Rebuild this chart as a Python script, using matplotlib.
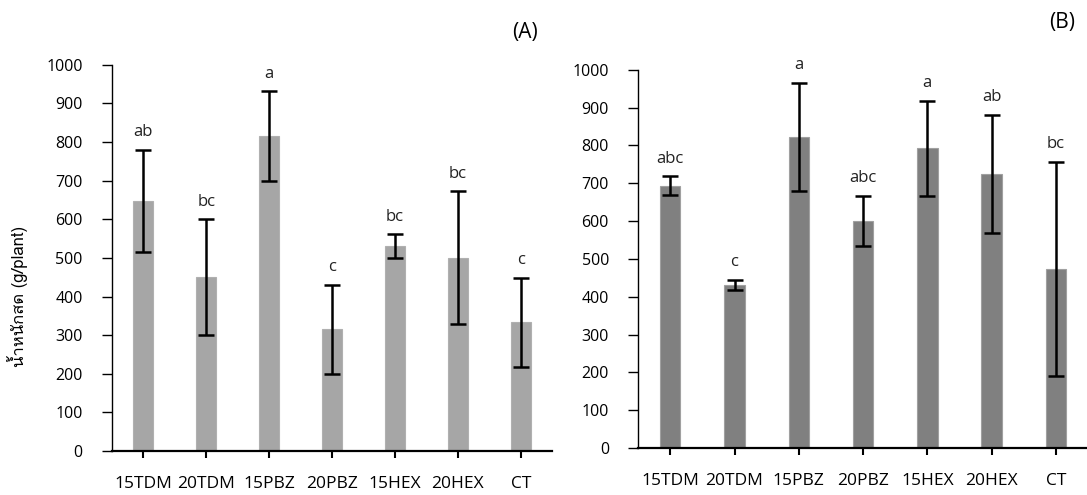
import matplotlib
matplotlib.use('Agg')
import matplotlib.pyplot as plt
from matplotlib import font_manager
from matplotlib.ft2font import FT2Font
import numpy as np

# treatments, shared by both panels
treatments = ['15TDM', '20TDM', '15PBZ', '20PBZ', '15HEX', '20HEX', 'CT']

# panel A: fresh weight (g/plant), error and letters
mean_a = [648, 450, 815, 315, 531, 500, 333]
err_a = [132, 150, 116, 115, 30, 172, 115]
letters_a = ['ab', 'bc', 'a', 'c', 'bc', 'bc', 'c']

# panel B
mean_b = [693, 431, 822, 600, 792, 724, 473]
err_b = [25, 13, 143, 66, 126, 156, 284]
letters_b = ['abc', 'c', 'a', 'abc', 'a', 'ab', 'bc']

ylabel = 'น้ำหนักสด (g/plant)'

# look for an installed family that has Thai glyphs
thai_families = []
for f in font_manager.fontManager.ttflist:
    try:
        font = FT2Font(f.fname)
        if all(font.get_char_index(ord(c)) != 0 for c in 'น้ำหนักสด'):
            if f.name not in thai_families:
                thai_families.append(f.name)
    except Exception:
        pass

plt.rcParams['font.family'] = ['Open Sans', 'DejaVu Sans']

fig = plt.figure(figsize=(10.87, 4.95), dpi=100)
ax1 = fig.add_axes([0.103, 0.089, 0.405, 0.780])
ax2 = fig.add_axes([0.587, 0.095, 0.414, 0.764])


def draw_panel(ax, means, errs, letters, color, edge):
    x = np.arange(len(treatments))
    ax.bar(x, means, width=0.32, color=color, edgecolor=edge, linewidth=0.8, zorder=2)
    ax.errorbar(x, means, yerr=errs, fmt='none', ecolor='black', elinewidth=1.8,
                capsize=6, capthick=1.8, zorder=3)
    for xi, m, e, lab in zip(x, means, errs, letters):
        ax.annotate(lab, (xi, m + e), xytext=(0, 7), textcoords='offset points',
                    ha='center', va='bottom', fontsize=12, color='#222222')
    ax.set_xlim(-0.5, len(treatments) - 0.5)
    ax.set_ylim(0, 1000)
    ax.set_yticks(range(0, 1001, 100))
    ax.set_xticks(x)
    ax.set_xticklabels(treatments)
    for s in ['top', 'right']:
        ax.spines[s].set_visible(False)
    ax.spines['left'].set_linewidth(1.0)
    ax.spines['bottom'].set_linewidth(1.6)
    ax.tick_params(axis='y', direction='out', length=7, width=1.0, pad=14,
                   labelsize=11.5, colors='black')
    ax.tick_params(axis='x', direction='out', length=5, width=1.5, pad=13,
                   labelsize=12.5)


draw_panel(ax1, mean_a, err_a, letters_a, '#a6a6a6', '#b0b0b0')
draw_panel(ax2, mean_b, err_b, letters_b, '#808080', '#a0a0a0')

ax1.set_ylabel(ylabel, fontsize=12,
               family=thai_families + ['Open Sans', 'DejaVu Sans'])
ax1.yaxis.set_label_coords(-0.19, 0.4)

fig.text(0.483, 0.935, '(A)', fontsize=15, ha='center', va='center')
fig.text(0.977, 0.955, '(B)', fontsize=15, ha='center', va='center')

fig.savefig('out.png', dpi=100)
